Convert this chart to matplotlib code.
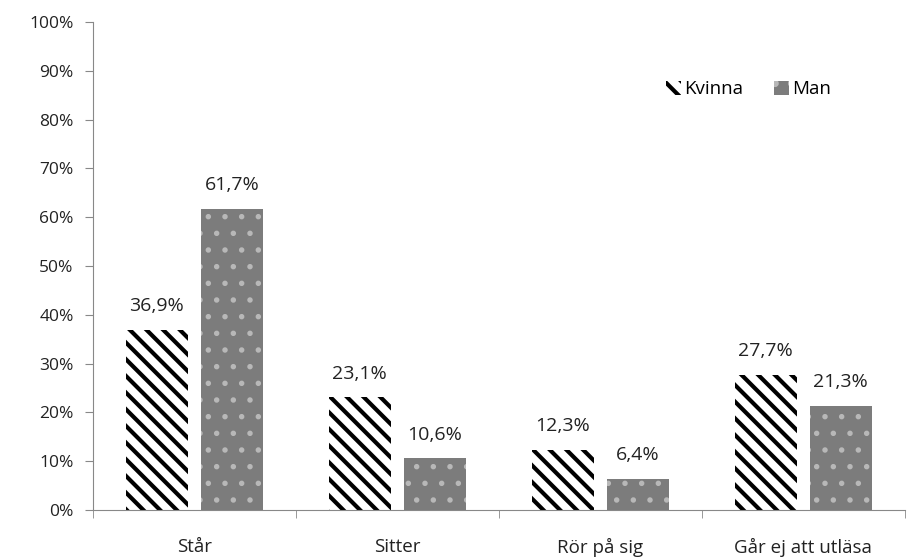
import matplotlib
matplotlib.use("Agg")
import matplotlib.pyplot as plt
import numpy as np

plt.rcParams['font.family'] = ['Open Sans', 'DejaVu Sans']
plt.rcParams['hatch.linewidth'] = 3.0

categories = ["Står", "Sitter", "Rör på sig", "Går ej att utläsa"]
kvinna = [36.9, 23.1, 12.3, 27.7]
man = [61.7, 10.6, 6.4, 21.3]
yticks = [0, 10, 20, 30, 40, 50, 60, 70, 80, 90, 100]

fig = plt.figure(figsize=(9.16, 5.6), dpi=100)
ax = fig.add_axes([0.1015, 0.089, 0.886, 0.872])

x = np.arange(len(categories))
w = 0.305
gap = 0.065

plt.rcParams['hatch.color'] = 'black'
b1 = ax.bar(x - (w + gap) / 2, kvinna, w, color='white', edgecolor='black',
            hatch='\\\\', linewidth=0, label='Kvinna')
b2 = ax.bar(x + (w + gap) / 2, man, w, color='#7c7c7c', linewidth=0, label='Man')
for r in b2:
    r.set_hatch('.')
    r._hatch_color = (0.72, 0.72, 0.72, 1)
    r._hatch_linewidth = 1.5

for bars, vals in [(b1, kvinna), (b2, man)]:
    for r, v in zip(bars, vals):
        ax.text(r.get_x() + r.get_width() / 2, v + 3, f"{v:.1f}%".replace('.', ','),
                ha='center', va='bottom', fontsize=14, color='#222222')

ax.set_xlim(-0.5, len(categories) - 0.5)
ax.set_ylim(0, 100)
ax.set_yticks(yticks)
ax.set_yticklabels([f"{t}%" for t in yticks], fontsize=12.5, color='#222222')
ax.set_xticks(x)
ax.set_xticklabels(categories, fontsize=13.5, color='#222222')
ax.tick_params(axis='x', length=0, pad=20)
ax.set_xticks(np.arange(-0.5, len(categories)), minor=True)
ax.tick_params(axis='x', which='minor', length=6, color='#888888')
ax.tick_params(axis='y', length=6, color='#888888', pad=8)

for s in ['top', 'right']:
    ax.spines[s].set_visible(False)
for s in ['left', 'bottom']:
    ax.spines[s].set_color('#888888')

ax.legend(loc='upper left', bbox_to_anchor=(0.685, 0.915), ncol=2, frameon=False,
          fontsize=13.5, handlelength=0.8, handleheight=0.8, handletextpad=0.2,
          columnspacing=1.6)

fig.savefig("out.png", dpi=100)
